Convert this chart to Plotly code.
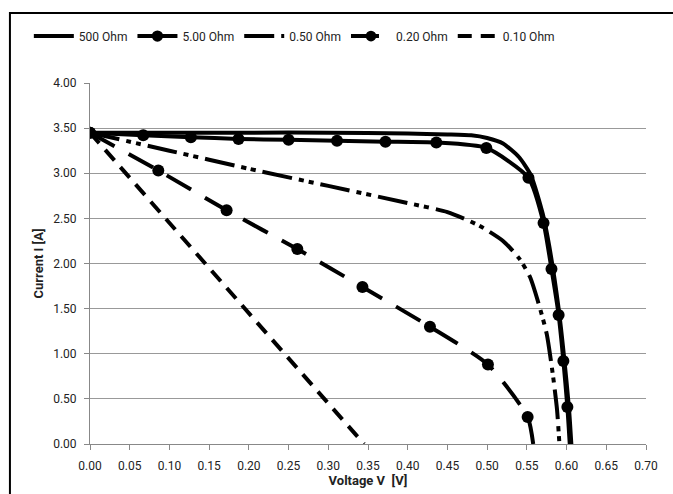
import plotly.graph_objects as go

# ---- data ----
v_500 = [0.0, 0.10, 0.20, 0.30, 0.40, 0.45, 0.48, 0.50, 0.52, 0.54, 0.555, 0.57, 0.58, 0.59, 0.597, 0.603, 0.606]
i_500 = [3.45, 3.45, 3.45, 3.45, 3.44, 3.43, 3.42, 3.39, 3.33, 3.18, 2.98, 2.55, 2.10, 1.50, 0.95, 0.40, 0.0]

v_5 = [0.0, 0.067, 0.127, 0.187, 0.250, 0.311, 0.372, 0.436, 0.499, 0.552, 0.571, 0.581, 0.590, 0.596, 0.601, 0.604]
i_5 = [3.45, 3.42, 3.40, 3.38, 3.37, 3.36, 3.35, 3.34, 3.28, 2.95, 2.45, 1.94, 1.43, 0.92, 0.41, 0.0]

v_050 = [0.0, 0.10, 0.20, 0.30, 0.40, 0.45, 0.49, 0.52, 0.54, 0.554, 0.565, 0.575, 0.583, 0.588, 0.591]
i_050 = [3.45, 3.25, 3.05, 2.86, 2.67, 2.57, 2.42, 2.25, 2.06, 1.85, 1.55, 1.22, 0.75, 0.38, 0.0]

v_020 = [0.0, 0.086, 0.172, 0.261, 0.343, 0.428, 0.501, 0.551, 0.558]
i_020 = [3.45, 3.03, 2.59, 2.16, 1.74, 1.30, 0.88, 0.30, 0.0]

v_010 = [0.0, 0.345]
i_010 = [3.45, 0.0]

names = ["500 Ohm", "5.00 Ohm", "0.50 Ohm", "0.20 Ohm", "0.10 Ohm"]
x_ticks = [round(0.05 * k, 2) for k in range(15)]
y_ticks = [round(0.5 * k, 1) for k in range(9)]

FONT = "Liberation Sans Narrow, Roboto, sans-serif"
tick_font = dict(family=FONT, size=12, color="#222")
mk_line = dict(color="black", width=0)

fig = go.Figure()
fig.add_trace(go.Scatter(x=v_500, y=i_500, name=names[0], mode="lines",
                         line=dict(color="black", width=4, shape="spline", smoothing=0.6)))
fig.add_trace(go.Scatter(x=v_5, y=i_5, name=names[1], mode="lines+markers",
                         line=dict(color="black", width=4, shape="spline", smoothing=0.6),
                         marker=dict(color="black", opacity=1, line=mk_line,
                                     size=[12] * (len(v_5) - 1) + [0])))
fig.add_trace(go.Scatter(x=v_050, y=i_050, name=names[2], mode="lines",
                         line=dict(color="black", width=4, dash="30px,7px,5px,5px,5px,7px",
                                   shape="spline", smoothing=0.6)))
fig.add_trace(go.Scatter(x=v_020, y=i_020, name=names[3], mode="lines+markers",
                         line=dict(color="black", width=4, dash="28px,16px", shape="spline", smoothing=0.6),
                         marker=dict(color="black", opacity=1, line=mk_line,
                                     size=[12] * (len(v_020) - 1) + [0])))
fig.add_trace(go.Scatter(x=v_010, y=i_010, name=names[4], mode="lines",
                         line=dict(color="black", width=4, dash="14px,9px")))

fig.update_layout(
    width=673, height=494,
    margin=dict(l=90, r=27, t=83, b=50),
    paper_bgcolor="white", plot_bgcolor="white",
    showlegend=True,
    legend=dict(orientation="h", x=-0.11, xanchor="left", y=1.13, yanchor="middle",
                font=dict(family=FONT, size=12, color="#222"),
                itemwidth=40, tracegroupgap=0, bgcolor="rgba(0,0,0,0)"),
    xaxis=dict(range=[0, 0.70], tickvals=x_ticks, ticktext=[f"{t:.2f}" for t in x_ticks],
               showgrid=False, zeroline=False, showline=True, linecolor="#888", linewidth=1,
               ticks="outside", ticklen=5, tickcolor="#888", tickfont=tick_font,
               ticklabelstandoff=6, automargin=False,
               title=dict(text="<b>Voltage V  [V]</b>", standoff=2,
                          font=dict(family=FONT, size=13, color="#222"))),
    yaxis=dict(range=[0, 4.0], tickvals=y_ticks, ticktext=[f"{t:.2f}" for t in y_ticks],
               showgrid=True, gridcolor="#999", gridwidth=1, zeroline=False,
               showline=True, linecolor="#888", linewidth=1,
               ticks="outside", ticklen=5, tickcolor="#888", tickfont=tick_font,
               ticklabelstandoff=5, automargin=False,
               title=dict(text="<b>Current I [A]</b>", standoff=6,
                          font=dict(family=FONT, size=13, color="#222"))),
    shapes=[dict(type="rect", xref="paper", yref="paper", x0=-0.144, x1=1.2, y0=-0.4, y1=1.194,
                 line=dict(color="black", width=2), fillcolor="rgba(0,0,0,0)", layer="below")],
)

fig.write_html("out.html")
